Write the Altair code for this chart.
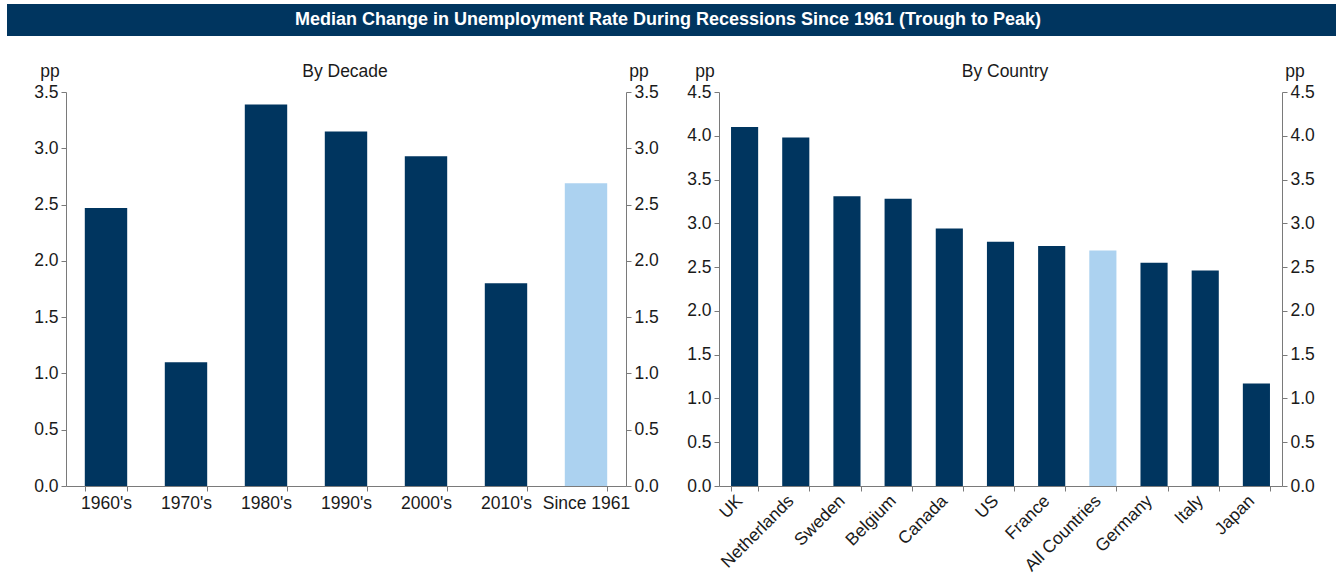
import altair as alt
import pandas as pd

# ---- data ----
decades = ["1960's", "1970's", "1980's", "1990's", "2000's", "2010's", "Since 1961"]
decade_values = [2.47, 1.10, 3.39, 3.15, 2.93, 1.80, 2.69]
decade_group = ["base", "base", "base", "base", "base", "base", "total"]

countries = ["UK", "Netherlands", "Sweden", "Belgium", "Canada", "US", "France",
             "All Countries", "Germany", "Italy", "Japan"]
country_values = [4.10, 3.98, 3.31, 3.28, 2.94, 2.79, 2.74, 2.69, 2.55, 2.46, 1.17]
country_group = ["base"] * 7 + ["total"] + ["base"] * 3

left_ticks = [0.0, 0.5, 1.0, 1.5, 2.0, 2.5, 3.0, 3.5]
right_ticks = [0.0, 0.5, 1.0, 1.5, 2.0, 2.5, 3.0, 3.5, 4.0, 4.5]

title_text = "Median Change in Unemployment Rate During Recessions Since 1961 (Trough to Peak)"

NAVY = "#00355F"
LIGHT = "#ACD2F0"
FONT = "Liberation Sans"
AXIS_GREY = "#7a7a7a"
TEXT = "#1a1a1a"
FS = 17.5

H = 394
W1 = 560
W2 = 563

df_dec = pd.DataFrame({"label": decades, "value": decade_values, "group": decade_group})
df_cty = pd.DataFrame({"label": countries, "value": country_values, "group": country_group})
one = pd.DataFrame({"k": [0]})

color_enc = alt.Color("group:N", scale=alt.Scale(domain=["base", "total"], range=[NAVY, LIGHT]), legend=None)


def yaxis(orient, vals):
    return alt.Axis(orient=orient, values=vals, format=".1f", title=None, grid=False,
                    domainColor=AXIS_GREY, tickColor=AXIS_GREY, tickSize=5,
                    labelFont=FONT, labelFontSize=FS, labelColor=TEXT, labelPadding=3)


def panel(df, order, ticks, top, width, angle, texts):
    extra = ({"labelAlign": "right", "labelBaseline": "middle", "labelPadding": 7, "labelOffset": -5}
             if angle else {"labelPadding": 3})
    xaxis = alt.Axis(title=None, labelAngle=angle, tickBand="extent", domainColor=AXIS_GREY,
                     tickColor=AXIS_GREY, tickSize=5, labelFont=FONT, labelFontSize=FS,
                     labelColor=TEXT, **extra)
    pad_i = 0.47
    xenc = alt.X("label:N", sort=order, scale=alt.Scale(paddingInner=pad_i, paddingOuter=pad_i / 2), axis=xaxis)
    yscale = alt.Scale(domain=[0, top], nice=False)
    bars = alt.Chart(df).mark_bar().encode(
        x=xenc,
        y=alt.Y("value:Q", scale=yscale, axis=yaxis("left", ticks)),
        color=color_enc,
    )
    ghost = alt.Chart(df).mark_bar(opacity=0).encode(
        x=xenc,
        y=alt.Y("value:Q", scale=yscale, axis=yaxis("right", ticks)),
    )
    layers = [bars, ghost]
    for t, xv, yv in texts:
        layers.append(
            alt.Chart(one).mark_text(font=FONT, fontSize=FS, color=TEXT, align="center", baseline="middle")
            .encode(x=alt.value(xv), y=alt.value(yv), text=alt.value(t))
        )
    return alt.layer(*layers).resolve_axis(y="independent").properties(width=width, height=H)


header_rect = alt.Chart(one).mark_rect(color=NAVY).encode(
    x=alt.value(-59), x2=alt.value(1270), y=alt.value(-88), y2=alt.value(-56)
)
header_text = alt.Chart(one).mark_text(font=FONT, fontSize=18, fontWeight="bold", color="white",
                                       align="center", baseline="middle").encode(
    x=alt.value(602), y=alt.value(-72), text=alt.value(title_text)
)

left = panel(df_dec, decades, left_ticks, 3.5, W1, 0,
             [("pp", -16, -20), ("pp", 573, -20), ("By Decade", 279, -20)])
left = alt.layer(header_rect, header_text, left).resolve_axis(y="independent")

right = panel(df_cty, countries, right_ticks, 4.5, W2, -45,
              [("pp", -14, -20), ("pp", 576, -20), ("By Country", 286, -20)])

chart = alt.hconcat(left, right, spacing=93, bounds="flush").properties(
    padding={"left": 7, "top": 4, "right": 0, "bottom": 0},
    background="white",
).configure_view(stroke=None)

chart.save("out.html", embed_options={"renderer": "svg", "actions": False})
